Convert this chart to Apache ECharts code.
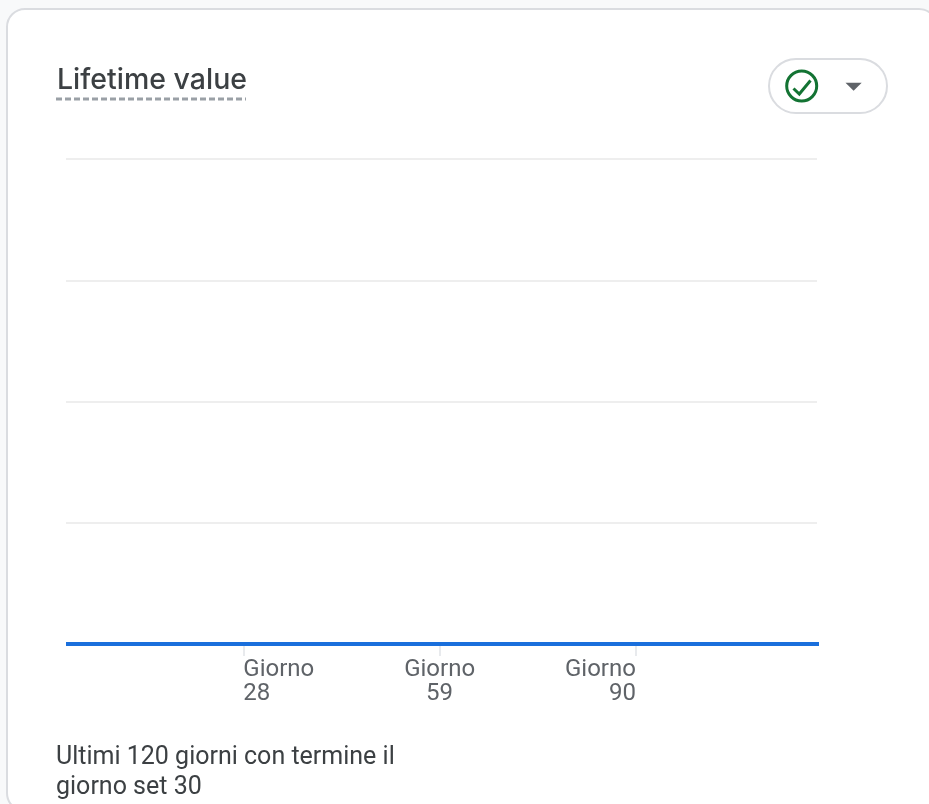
<!DOCTYPE html>
<html>
<head>
<meta charset="utf-8">
<style>html,body{margin:0;padding:0;background:#f8f9fa;overflow:hidden}#c{width:929px;height:804px}</style>
<script src="https://cdn.jsdelivr.net/npm/echarts@6/dist/echarts.min.js"></script>
</head>
<body>
<div id="c"></div>
<script>
const titleText = 'Lifetime value';
const footerText = 'Ultimi 120 giorni con termine il\ngiorno set 30';
const tickDays = [28, 59, 90];
const tickPrefix = 'Giorno';
const days = [0, 28, 59, 90, 119];
const lifetimeValue = [0, 0, 0, 0, 0];
const yTicks = [0, 1, 2, 3, 4];

const chart = echarts.init(document.getElementById('c'));
chart.setOption({
  animation: false,
  backgroundColor: '#f8f9fa',
  title: {
    text: titleText, left: 57, top: 66, padding: 0,
    textStyle: { fontFamily: 'Inter', fontSize: 28.5, fontWeight: 500, color: '#3c4043' }
  },
  grid: { left: 66, right: 112, top: 159, bottom: 160 },
  xAxis: {
    type: 'value', min: 0, max: 118.6,
    splitLine: { show: false },
    axisLine: { show: false },
    axisTick: { show: true, customValues: tickDays, length: 12, lineStyle: { color: '#e8eaed', width: 2 } },
    axisLabel: {
      customValues: tickDays,
      formatter: v => tickPrefix + '\n' + v,
      margin: 14,
      alignMinLabel: 'left', alignMaxLabel: 'right',
      fontFamily: 'Roboto', fontSize: 24, lineHeight: 24, color: '#5f6368'
    }
  },
  yAxis: {
    type: 'value', min: yTicks[0], max: yTicks[yTicks.length - 1], interval: 1,
    axisLine: { show: false }, axisTick: { show: false }, axisLabel: { show: false },
    splitLine: { lineStyle: { color: '#eeeeee', width: 2 } }
  },
  series: [{
    type: 'line', data: days.map((d, i) => [d, lifetimeValue[i]]),
    showSymbol: false, clip: true, z: 5,
    lineStyle: { color: '#1a6fdc', width: 4, cap: 'butt' }
  }],
  graphic: [
    { type: 'rect', z: -10, shape: { x: 7, y: 9, width: 930, height: 802, r: 18 },
      style: { fill: '#fff', stroke: '#dadce0', lineWidth: 2 } },
    { type: 'line', z: 10, shape: { x1: 56, y1: 99, x2: 246, y2: 99 },
      style: { stroke: '#9aa0a6', lineWidth: 3, lineDash: [6, 3] } },
    { type: 'rect', z: 10, shape: { x: 769, y: 59, width: 118, height: 54, r: 27 },
      style: { fill: '#fff', stroke: '#dadce0', lineWidth: 2 } },
    { type: 'circle', z: 11, shape: { cx: 801.7, cy: 86, r: 15 },
      style: { fill: 'none', stroke: '#137333', lineWidth: 3 } },
    { type: 'polyline', z: 11, shape: { points: [[793.5, 88.5], [799.3, 94], [810.5, 80.5]] },
      style: { fill: 'none', stroke: '#137333', lineWidth: 3 } },
    { type: 'polygon', z: 11, shape: { points: [[845.5, 82.7], [861.7, 82.7], [853.6, 90.8]] },
      style: { fill: '#5f6368' } },
    { type: 'text', z: 10, x: 56, y: 743,
      style: { text: footerText, fontFamily: 'Roboto', fontSize: 25, lineHeight: 30, fill: '#3c4043' } }
  ]
});
</script>
</body>
</html>
